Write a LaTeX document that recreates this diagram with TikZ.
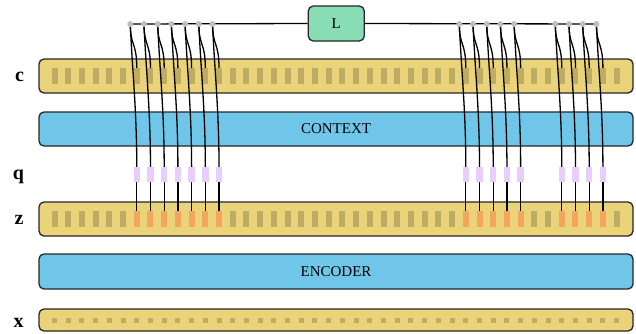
\documentclass[tikz,border=0pt]{standalone}
\usepackage{fontspec}
\setmainfont{Liberation Serif}
\definecolor{barfill}{RGB}{235,211,122}
\definecolor{tokgrey}{RGB}{190,172,100}
\definecolor{tokorange}{RGB}{242,166,94}
\definecolor{ctxblue}{RGB}{112,198,233}
\definecolor{qlav}{RGB}{232,206,252}
\definecolor{lgreen}{RGB}{136,221,181}
\definecolor{dotgrey}{RGB}{190,190,190}
\tikzset{
 bar/.style={draw=black!85, line width=1.3pt, rounded corners=5pt, fill=barfill, minimum width=594pt, inner sep=0pt},
 netbox/.style={draw=black!85, line width=1.3pt, rounded corners=5pt, fill=ctxblue, minimum width=594pt, minimum height=34pt, inner sep=0pt, font=\fontsize{15}{15}\selectfont},
 tok/.style={fill=tokgrey, minimum width=6pt, minimum height=15.5pt, inner sep=0pt},
 otok/.style={tok, fill=tokorange},
 qtok/.style={fill=qlav, minimum width=6.5pt, minimum height=15pt, inner sep=0pt},
 xtok/.style={fill=tokgrey, minimum size=5pt, inner sep=0pt},
 dotnode/.style={circle, fill=dotgrey, minimum size=6pt, inner sep=0pt},
 wire/.style={line width=1.3pt, black},
 lab/.style={font=\fontsize{20}{20}\selectfont\bfseries, inner sep=0pt},
 lbox/.style={draw=black!85, line width=1.3pt, rounded corners=5pt, fill=lgreen, minimum width=56pt, minimum height=35pt, inner sep=0pt, font=\fontsize{15}{15}\selectfont},
}
\begin{document}
\begin{tikzpicture}[x=1pt,y=-1pt]
\useasboundingbox (0,0) rectangle (636,333);
% bars
\node[bar, minimum height=34pt] (cbar) at (336,76) {};
\node[netbox] (context) at (336,129) {CONTEXT};
\node[bar, minimum height=34pt] (zbar) at (336,219) {};
\node[netbox, minimum height=35pt] (encoder) at (336,271.5) {ENCODER};
\node[bar, minimum height=22pt] (xbar) at (336,320) {};
% labels
\node[lab] (lc) at (19.5,76.5) {c};
\node[lab] (lq) at (18.5,177) {q};
\node[lab] (lz) at (19,219.5) {z};
\node[lab] (lx) at (18.7,322.5) {x};
% tokens
\foreach \k in {0,...,41} {
  \node[tok] (c\k) at ({54.5+13.71*\k},76) {};
  \node[tok] (z\k) at ({54.5+13.71*\k},219) {};
  \node[xtok] (x\k) at ({54.5+13.71*\k},320) {};
}
% L box
\node[lbox] (L) at (336.3,23.5) {L};
\foreach \k in {6,7,8,9,10,11,12,30,31,32,33,34,37,38,39,40} {
  \node[otok] (zo\k) at ({54.5+13.71*\k},219) {};
  \node[qtok] (q\k) at ({54.5+13.71*\k},174.5) {};
  \coordinate (dp\k) at ({54.5+13.71*\k-6.5},24);
}
\draw[wire] (dp6) -- (L.west);
\draw[wire] (L.east) -- (dp40);
\foreach \k in {6,7,8,9,10,11,12,30,31,32,33,34,37,38,39,40} {
  \draw[wire] (dp\k) .. controls +(0,22) and +(0,-26) .. (c\k.north);
  \draw[wire] (dp\k) .. controls +(2,46) and +(0,-57) .. (q\k.north);
  \draw[wire] (q\k.south) -- (zo\k.north);
}
\foreach \k in {6,7,8,9,10,11,12,30,31,32,33,34,37,38,39,40} {
  \node[dotnode] (d\k) at (dp\k) {};
}
\end{tikzpicture}
\end{document}
